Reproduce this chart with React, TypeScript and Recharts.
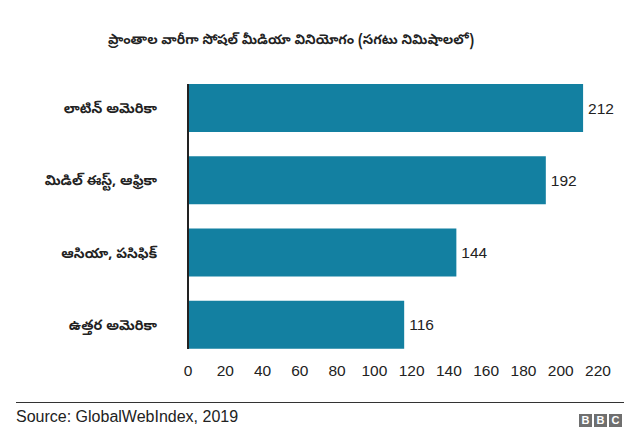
import { BarChart, Bar, XAxis, YAxis, LabelList } from "recharts"

const regions = ["లాటిన్ అమెరికా", "మిడిల్ ఈస్ట్, ఆఫ్రికా", "ఆసియా, పసిఫిక్", "ఉత్తర అమెరికా"]
const minutes = [212, 192, 144, 116]
const xTicks = [0, 20, 40, 60, 80, 100, 120, 140, 160, 180, 200, 220]

const data = regions.map((region, i) => ({ region, minutes: minutes[i] }))

const teluguFont = "'Noto Sans Telugu', 'Lohit Telugu', 'Noto Sans', sans-serif"
const latinFont = "'Liberation Sans', Arial, sans-serif"

export default function App() {
  return (
    <div style={{ position: "relative", width: 640, height: 447, background: "#fff", overflow: "hidden" }}>
      <style>{`body{margin:0}`}</style>
      <div
        style={{
          position: "absolute",
          top: 32,
          left: 0,
          width: 582,
          textAlign: "center",
          fontFamily: teluguFont,
          fontWeight: 700,
          fontSize: 13.5,
          color: "#222",
        }}
      >
        ప్రాంతాల వారీగా సోషల్ మీడియా వినియోగం (సగటు నిమిషాలలో)
      </div>
      <BarChart
        width={640}
        height={400}
        data={data}
        layout="vertical"
        margin={{ top: 72, right: 42, bottom: 9, left: 0 }}
      >
        <XAxis
          type="number"
          domain={[0, 220]}
          ticks={xTicks}
          axisLine={false}
          tickLine={false}
          tickSize={0}
          tickMargin={4}
          interval={0}
          tick={{ fill: "#222", fontSize: 15.5, fontFamily: latinFont }}
        />
        <YAxis
          type="category"
          dataKey="region"
          width={188}
          axisLine={false}
          tickLine={false}
          tickSize={0}
          tickMargin={31}
          tick={{ fill: "#222", fontSize: 14, fontWeight: 700, fontFamily: teluguFont }}
        />
        <Bar dataKey="minutes" fill="#1380A1" barSize={48} isAnimationActive={false}>
          <LabelList
            dataKey="minutes"
            position="right"
            offset={5}
            style={{ fill: "#222", fontSize: 15.5, fontFamily: latinFont }}
          />
        </Bar>
      </BarChart>
      <div style={{ position: "absolute", left: 187, top: 84, width: 2, height: 265, background: "#222" }} />
      <div style={{ position: "absolute", left: 16, top: 402, width: 608, height: 1, background: "#333" }} />
      <div
        style={{
          position: "absolute",
          left: 16,
          top: 408,
          fontFamily: latinFont,
          fontSize: 16,
          color: "#222",
        }}
      >
        Source: GlobalWebIndex, 2019
      </div>
      <div style={{ position: "absolute", left: 579, top: 414, display: "flex", gap: 2 }}>
        {["B", "B", "C"].map((ch, i) => (
          <div
            key={i}
            style={{
              width: 13,
              height: 13,
              background: "#6f6f6f",
              color: "#fff",
              fontFamily: latinFont,
              fontWeight: 700,
              fontSize: 11,
              lineHeight: "13px",
              textAlign: "center",
            }}
          >
            {ch}
          </div>
        ))}
      </div>
    </div>
  )
}
